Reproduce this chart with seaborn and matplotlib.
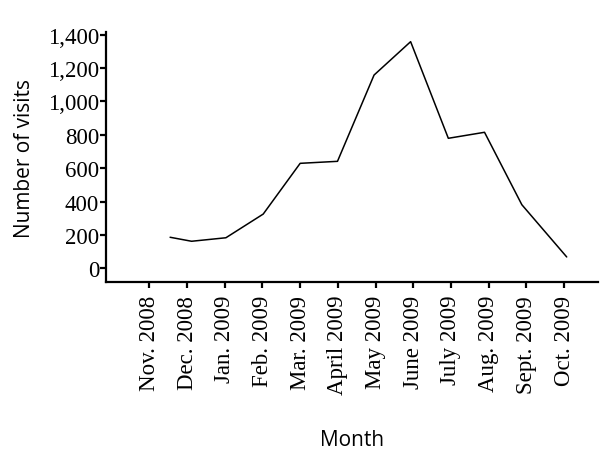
import numpy as np
import pandas as pd
import matplotlib
matplotlib.use('Agg')
import matplotlib.pyplot as plt
import seaborn as sns

# month labels on the x axis
months = ['Nov. 2008', 'Dec. 2008', 'Jan. 2009', 'Feb. 2009', 'Mar. 2009', 'April 2009',
          'May 2009', 'June 2009', 'July 2009', 'Aug. 2009', 'Sept. 2009', 'Oct. 2009']
# where each point sits along the month axis
month_pos = [0.55, 1.12, 2.03, 3.02, 4.0, 4.99, 5.96, 6.93, 7.93, 8.89, 9.88, 11.07]
visits = [186, 162, 183, 325, 629, 641, 1158, 1358, 779, 815, 381, 68]

df = pd.DataFrame({'pos': month_pos, 'visits': visits})

sns.set_style('ticks')
plt.rcParams['font.family'] = ['Liberation Serif']
plt.rcParams['text.color'] = 'black'
plt.rcParams['axes.labelcolor'] = 'black'
plt.rcParams['xtick.color'] = 'black'
plt.rcParams['ytick.color'] = 'black'

fig = plt.figure(figsize=(6.03, 4.64), dpi=100)
ax = fig.add_axes([0.1758, 0.3894, 0.8159, 0.5395])

sns.lineplot(data=df, x='pos', y='visits', color='black', linewidth=1.1, ax=ax)

ax.set_xlim(-1.15, 11.9)
ax.set_ylim(-84, 1416)
ax.set_xticks(range(len(months)))
ax.set_xticklabels(months, rotation=90, fontsize=16.5)
ax.set_yticks(range(0, 1401, 200))
ax.set_yticklabels([f'{v:,}' for v in range(0, 1401, 200)], fontsize=16.5)

sns.despine(ax=ax)
for s in ['left', 'bottom']:
    ax.spines[s].set_linewidth(1.6)
    ax.spines[s].set_color('black')
ax.tick_params(axis='both', length=4, width=1.6, color='black')
ax.tick_params(axis='y', pad=1)
ax.tick_params(axis='x', pad=5)

ax.set_xlabel('Month', fontsize=15, family='Open Sans', labelpad=25)
ax.set_ylabel('Number of visits', fontsize=15, family='Open Sans', labelpad=9)

fig.savefig('out.png', dpi=100)
